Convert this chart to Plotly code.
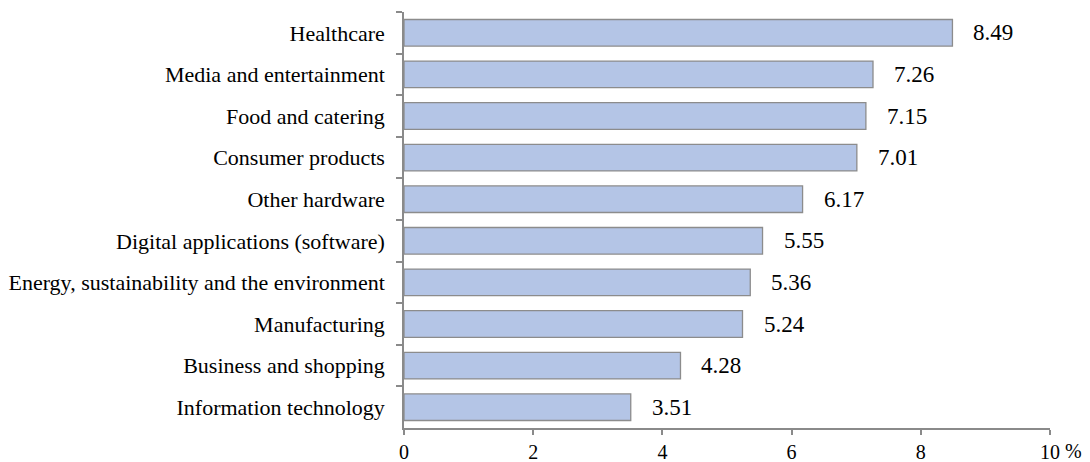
import plotly.graph_objects as go

categories = [
    "Healthcare",
    "Media and entertainment",
    "Food and catering",
    "Consumer products",
    "Other hardware",
    "Digital applications (software)",
    "Energy, sustainability and the environment",
    "Manufacturing",
    "Business and shopping",
    "Information technology",
]
values = [8.49, 7.26, 7.15, 7.01, 6.17, 5.55, 5.36, 5.24, 4.28, 3.51]
x_ticks = [0, 2, 4, 6, 8, 10]
x_tick_labels = ["0", "2", "4", "6", "8", "10"]

FONT = "Liberation Serif"
AXIS_COLOR = "#8a8a8a"

fig = go.Figure()
fig.add_trace(go.Bar(
    x=values,
    y=categories,
    orientation="h",
    marker=dict(color="#b4c5e6", line=dict(color="#8c8c8c", width=1.3)),
    hoverinfo="x+y",
))

for c, v in zip(categories, values):
    fig.add_annotation(
        x=v, y=c, text=f"{v:.2f}", showarrow=False,
        xanchor="left", yanchor="middle", xshift=19,
        font=dict(family=FONT, size=23, color="#000000"),
    )

fig.add_annotation(
    x=10, y=0, xref="x", yref="paper", text="%", showarrow=False,
    xanchor="left", yanchor="top", xshift=13, yshift=-10,
    font=dict(family=FONT, size=20, color="#000000"),
)

fig.update_layout(
    width=1090, height=462,
    margin=dict(l=396, r=48, t=4, b=42),
    paper_bgcolor="white", plot_bgcolor="white",
    bargap=0.36,
    showlegend=False,
    font=dict(family=FONT, size=20, color="#000000"),
    xaxis=dict(
        range=[0, 10], tickvals=x_ticks, ticktext=x_tick_labels,
        showgrid=False, zeroline=False, automargin=False,
        showline=True, linecolor=AXIS_COLOR, linewidth=1.5,
        ticks="outside", ticklen=5, tickcolor=AXIS_COLOR, tickwidth=1.5,
        tickfont=dict(family=FONT, size=20, color="#000000"),
    ),
    yaxis=dict(
        autorange="reversed", showgrid=False, zeroline=False, automargin=False,
        showline=True, linecolor=AXIS_COLOR, linewidth=1.5,
        ticks="outside", ticklen=6, tickcolor=AXIS_COLOR, tickwidth=1.5,
        tickson="boundaries", ticklabelstandoff=13,
        tickfont=dict(family=FONT, size=22, color="#000000"),
    ),
)

fig.write_html("out.html")
